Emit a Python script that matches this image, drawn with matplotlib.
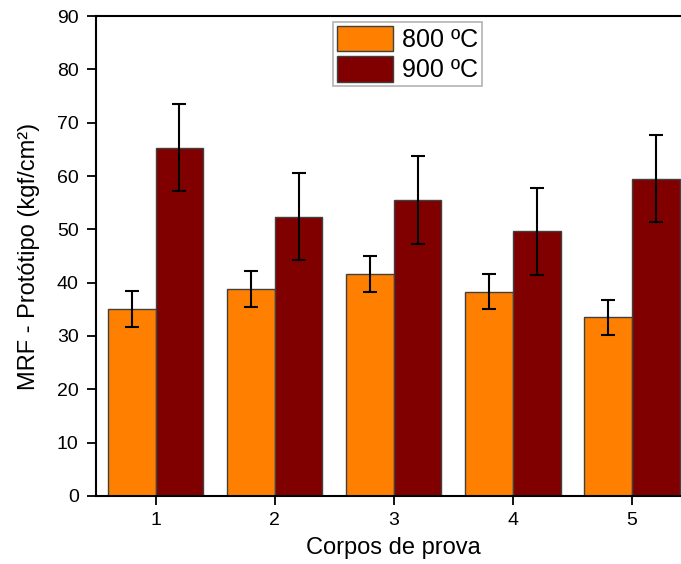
import matplotlib.pyplot as plt
import numpy as np

plt.rcParams['font.family'] = ['Liberation Sans', 'DejaVu Sans']

# Data
corpos = [1, 2, 3, 4, 5]
mrf_800 = [35.1, 38.8, 41.6, 38.3, 33.5]
err_800 = [3.4, 3.3, 3.4, 3.3, 3.3]
mrf_900 = [65.3, 52.4, 55.5, 49.6, 59.5]
err_900 = [8.2, 8.2, 8.2, 8.2, 8.2]

x = np.array(corpos)
w = 0.4

fig = plt.figure(figsize=(6.81, 5.64), dpi=100)
ax = fig.add_axes([0.141, 0.1206, 0.8746, 0.851])

ax.bar(x - w / 2, mrf_800, w, color='#FF8000', edgecolor='#404040', linewidth=1,
       label='800 ºC', yerr=err_800, error_kw=dict(ecolor='black', elinewidth=1.5, capsize=5, capthick=1.5))
ax.bar(x + w / 2, mrf_900, w, color='#800000', edgecolor='#404040', linewidth=1,
       label='900 ºC', yerr=err_900, error_kw=dict(ecolor='black', elinewidth=1.5, capsize=5, capthick=1.5))

ax.set_xlim(0.5, 5.5)
ax.set_ylim(0, 90)
ax.set_xticks(corpos)
ax.set_yticks(range(0, 91, 10))
ax.tick_params(direction='out', length=6.5, width=1.3, labelsize=14)
ax.tick_params(axis='y', pad=6)
ax.tick_params(axis='x', pad=5)
for s in ax.spines.values():
    s.set_linewidth(1.5)

ax.set_xlabel('Corpos de prova', fontsize=17, labelpad=6)
ax.set_ylabel('MRF - Protótipo (kgf/cm²)', fontsize=17, labelpad=12)

leg = ax.legend(loc='upper left', bbox_to_anchor=(333 / 681, 1 - 22 / 564), bbox_transform=fig.transFigure,
                fontsize=18, frameon=True, fancybox=False, handlelength=2.24, handleheight=1.2,
                borderpad=0.15, labelspacing=0.16, handletextpad=0.36, borderaxespad=0)
leg.get_frame().set_edgecolor('#A0A0A0')
leg.get_frame().set_linewidth(1.2)

fig.savefig('out.png', dpi=100)
